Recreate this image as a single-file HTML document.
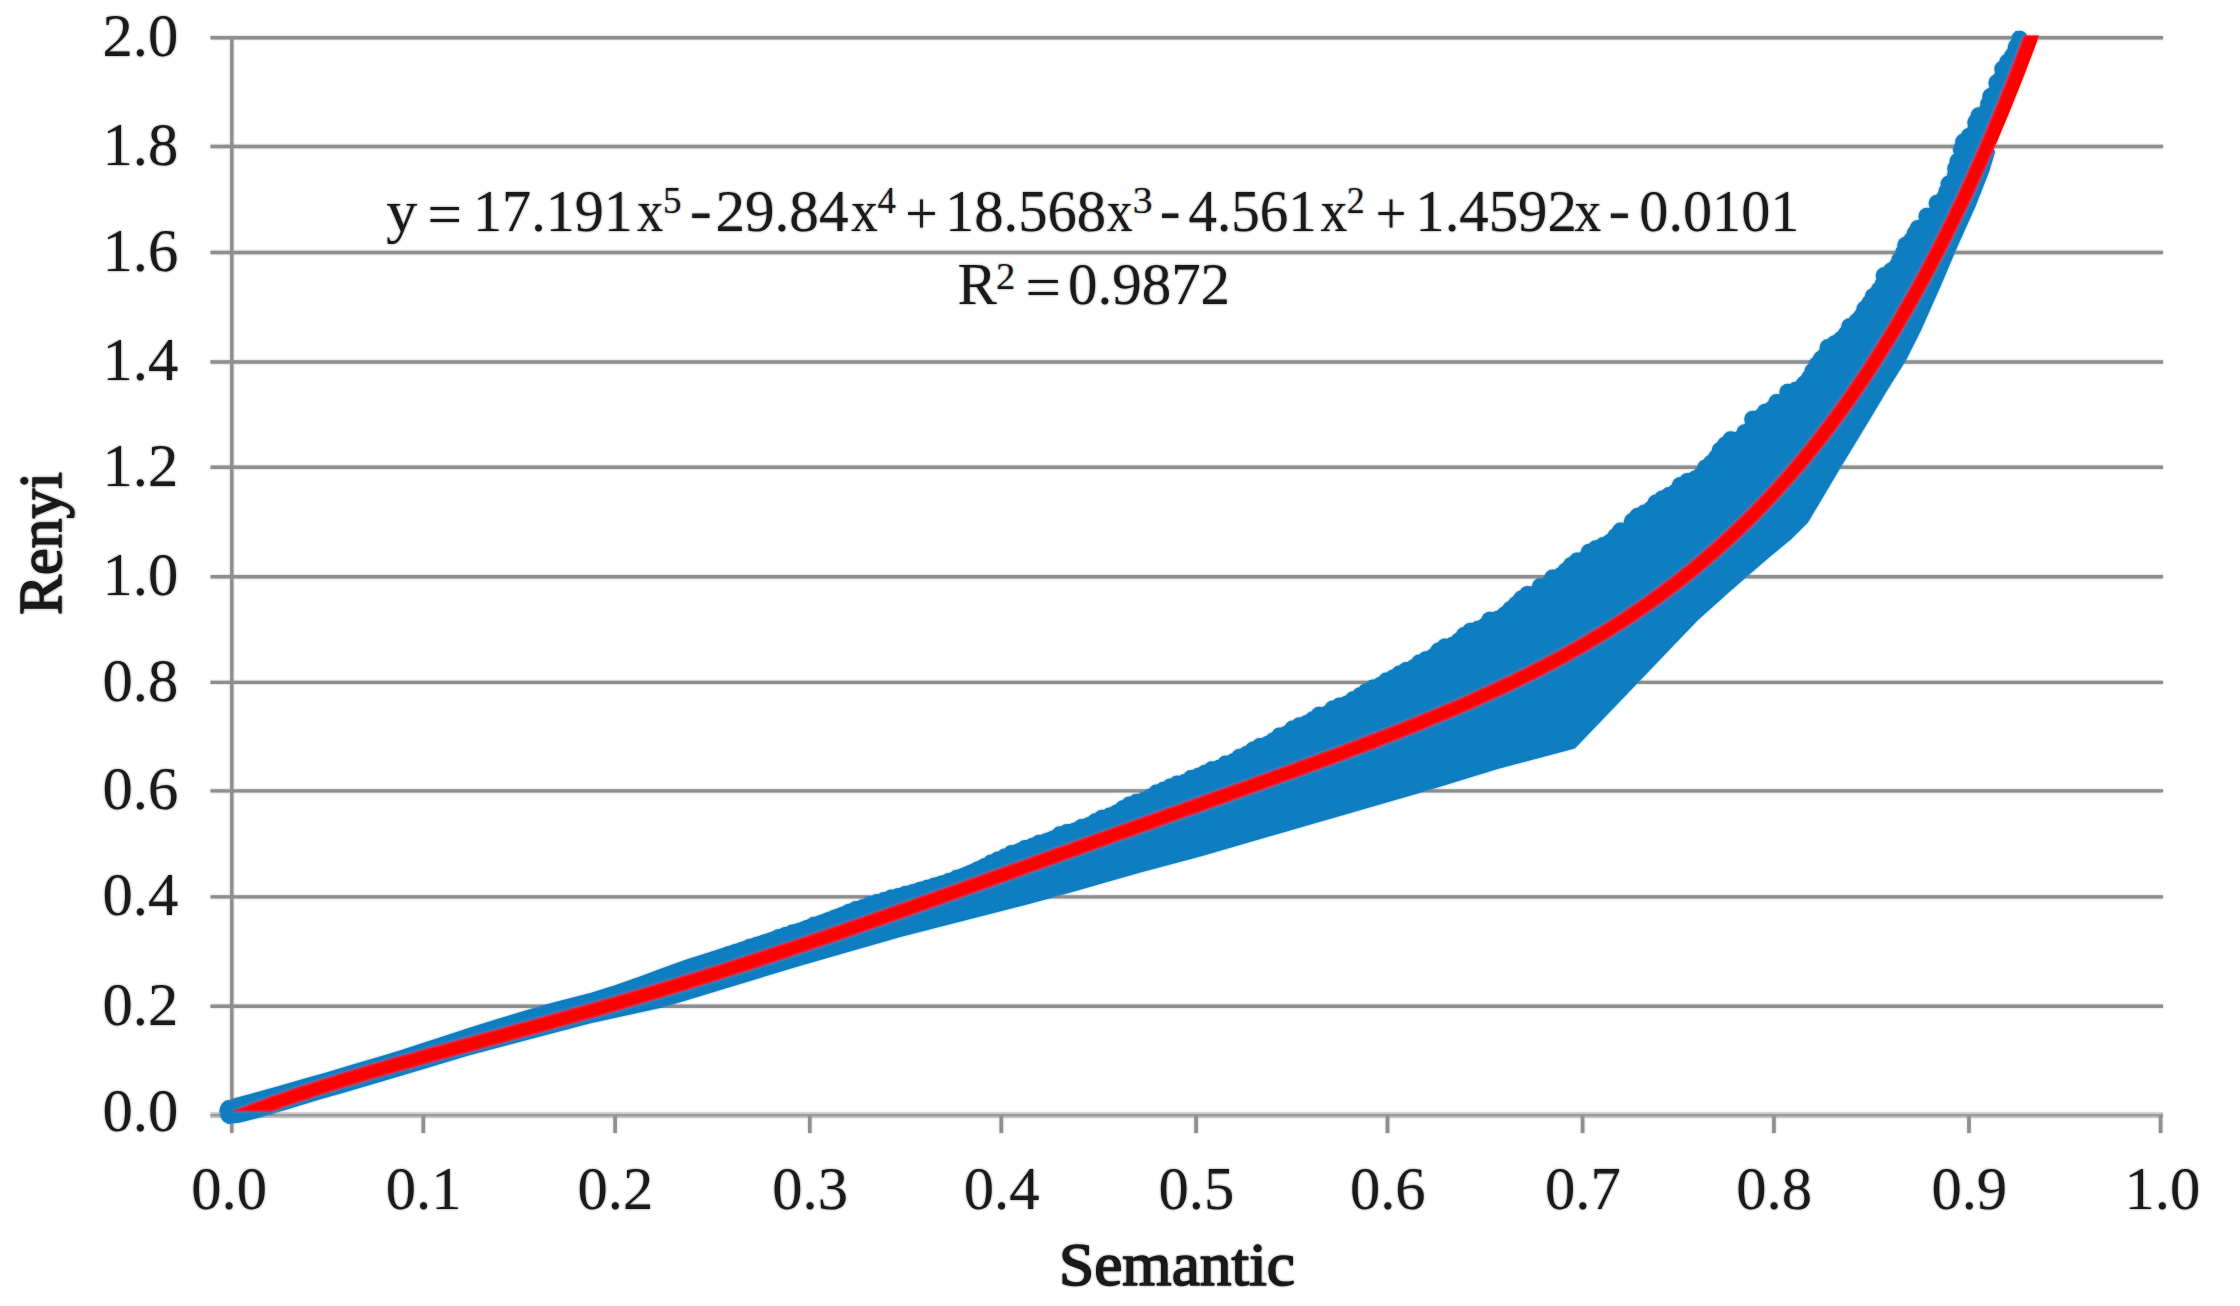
<!DOCTYPE html>
<html lang="en"><head><meta charset="utf-8"><title>Renyi vs Semantic</title>
<style>
html,body{margin:0;padding:0;background:#fff;}
body{width:2240px;height:1306px;overflow:hidden;}
svg{display:block;}
text{font-family:"Liberation Serif",serif;fill:#1a1a1a;}
.b{font-weight:normal;stroke:#1a1a1a;stroke-width:1.5px;stroke-linejoin:round;}
</style></head><body>
<svg width="2240" height="1306" viewBox="0 0 2240 1306">
<defs><clipPath id="plot"><rect x="225" y="35.5" width="1940" height="1076"/></clipPath><filter id="soft" x="0" y="0" width="2240" height="1306" filterUnits="userSpaceOnUse"><feGaussianBlur stdDeviation="0.9"/></filter></defs>
<rect width="2240" height="1306" fill="#fff"/>
<g id="chart">
<g stroke="#8f8f8f" stroke-width="3.4" fill="none"><line x1="210.5" y1="1006.3" x2="2163" y2="1006.3"/><line x1="210.5" y1="896.9" x2="2163" y2="896.9"/><line x1="210.5" y1="790.9" x2="2163" y2="790.9"/><line x1="210.5" y1="682.4" x2="2163" y2="682.4"/><line x1="210.5" y1="576.7" x2="2163" y2="576.7"/><line x1="210.5" y1="467.3" x2="2163" y2="467.3"/><line x1="210.5" y1="362.0" x2="2163" y2="362.0"/><line x1="210.5" y1="252.5" x2="2163" y2="252.5"/><line x1="210.5" y1="146.5" x2="2163" y2="146.5"/><line x1="210.5" y1="37.7" x2="2163" y2="37.7"/></g>
<line x1="231.8" y1="36" x2="231.8" y2="1133" stroke="#8f8f8f" stroke-width="3.4"/>
<rect x="210.5" y="1112" width="1952.5" height="2" fill="#d6d6d6"/><rect x="210.5" y="1114" width="1952.5" height="2" fill="#8e8e8e"/><rect x="210.5" y="1116" width="1952.5" height="1.8" fill="#bebebe"/>
<g stroke="#8f8f8f" stroke-width="3.6"><line x1="423.3" y1="1114" x2="423.3" y2="1133"/><line x1="615.1" y1="1114" x2="615.1" y2="1133"/><line x1="809.8" y1="1114" x2="809.8" y2="1133"/><line x1="1001.3" y1="1114" x2="1001.3" y2="1133"/><line x1="1196.1" y1="1114" x2="1196.1" y2="1133"/><line x1="1387.5" y1="1114" x2="1387.5" y2="1133"/><line x1="1582.6" y1="1114" x2="1582.6" y2="1133"/><line x1="1773.9" y1="1114" x2="1773.9" y2="1133"/><line x1="1969.0" y1="1114" x2="1969.0" y2="1133"/><line x1="2160.6" y1="1114" x2="2160.6" y2="1133"/></g>
<polygon points="232.0,1100.0 256.1,1093.4 280.2,1086.6 304.2,1079.8 328.3,1073.0 352.2,1065.8 376.2,1058.6 400.1,1051.5 423.9,1043.7 447.6,1035.9 471.4,1028.1 495.3,1020.8 519.2,1013.4 543.1,1006.1 567.3,1000.0 591.5,993.7 615.4,986.1 638.9,977.9 662.4,969.3 685.9,960.7 709.8,953.3 733.5,945.4 757.2,937.6 781.0,929.7 804.7,921.6 828.1,913.0 851.6,904.3 875.1,896.2 899.1,889.2 923.1,882.1 947.1,875.1 970.3,865.4 993.2,855.3 1016.1,845.2 1039.3,836.4 1062.8,827.9 1086.2,818.9 1109.3,808.9 1131.8,798.1 1154.5,787.9 1177.6,778.3 1200.7,768.6 1223.8,759.4 1246.5,748.0 1268.3,736.1 1290.5,724.5 1312.6,713.2 1335.3,702.6 1357.8,691.4 1379.7,679.2 1401.5,667.0 1423.4,654.9 1445.1,642.4 1466.6,629.5 1488.2,617.4 1509.9,604.2 1530.6,590.0 1551.2,575.9 1572.0,562.2 1592.8,548.3 1613.2,533.5 1633.3,518.6 1653.4,503.8 1673.5,489.0 1693.3,472.9 1712.0,456.3 1730.6,439.5 1748.9,422.4 1767.3,406.5 1787.5,391.7 1805.8,372.8 1819.2,352.9 1836.9,335.2 1854.2,316.4 1869.6,296.7 1883.6,275.3 1896.6,254.2 1910.4,233.4 1926.5,215.6 1941.6,194.2 1951.8,170.1 1959.7,148.3 1972.2,126.4 1983.5,104.1 1994.7,81.7 2005.8,58.7 2015.9,38.9 2016.0,32.0 2026.9,45.0 2021.2,60.0 2013.4,80.0 2005.4,100.0 1997.2,120.0 1988.7,140.0 1994.0,152.0 1988.0,172.0 1975.0,205.0 1957.0,245.0 1940.0,285.0 1920.0,330.0 1905.0,360.0 1885.0,392.0 1868.3,420.0 1839.3,467.7 1807.2,521.8 1791.1,537.9 1764.5,560.0 1730.0,590.0 1696.5,620.0 1636.9,682.2 1574.3,747.5 1497.2,768.0 1421.7,791.3 1350.0,812.0 1260.0,838.0 1200.0,855.5 1140.0,871.5 1050.0,897.2 1020.0,905.2 900.0,936.0 800.0,964.8 663.4,1006.2 589.3,1022.5 470.0,1054.0 400.0,1075.0 345.0,1091.2 320.0,1098.4 264.0,1115.5 240.0,1121.5 228.0,1123.0" fill="#107ec1" stroke="#107ec1" stroke-width="2" stroke-linejoin="round"/>
<ellipse cx="229.3" cy="1111.8" rx="10" ry="11.7" fill="#107ec1"/>
<g fill="#107ec1"><circle cx="707.4" cy="961.9" r="8.5"/><circle cx="714.6" cy="959.7" r="8.5"/><circle cx="721.8" cy="957.6" r="8.5"/><circle cx="728.7" cy="954.8" r="8.5"/><circle cx="735.9" cy="952.5" r="8.5"/><circle cx="743.0" cy="950.2" r="8.5"/><circle cx="750.0" cy="947.3" r="8.5"/><circle cx="757.2" cy="945.3" r="8.5"/><circle cx="764.4" cy="943.1" r="8.5"/><circle cx="771.5" cy="940.9" r="8.5"/><circle cx="778.4" cy="937.7" r="8.5"/><circle cx="785.6" cy="935.5" r="8.5"/><circle cx="792.6" cy="932.9" r="8.5"/><circle cx="800.0" cy="931.4" r="8.5"/><circle cx="807.3" cy="928.6" r="8.5"/><circle cx="814.0" cy="925.2" r="8.5"/><circle cx="821.5" cy="923.7" r="8.5"/><circle cx="828.5" cy="921.1" r="8.5"/><circle cx="835.4" cy="918.1" r="8.5"/><circle cx="842.4" cy="915.4" r="8.5"/><circle cx="849.2" cy="912.2" r="8.5"/><circle cx="856.1" cy="909.4" r="8.5"/><circle cx="863.4" cy="907.4" r="8.5"/><circle cx="869.7" cy="904.4" r="8.5"/><circle cx="877.0" cy="902.4" r="8.5"/><circle cx="884.2" cy="900.4" r="8.5"/><circle cx="891.3" cy="897.9" r="8.5"/><circle cx="898.6" cy="896.5" r="8.5"/><circle cx="905.8" cy="894.3" r="8.5"/><circle cx="913.2" cy="892.8" r="8.5"/><circle cx="920.3" cy="890.2" r="8.5"/><circle cx="927.5" cy="888.2" r="8.5"/><circle cx="934.6" cy="885.9" r="8.5"/><circle cx="941.9" cy="884.0" r="8.5"/><circle cx="949.0" cy="881.6" r="8.5"/><circle cx="956.9" cy="878.3" r="8.5"/><circle cx="964.3" cy="876.4" r="8.5"/><circle cx="971.1" cy="873.4" r="8.5"/><circle cx="977.9" cy="870.1" r="8.5"/><circle cx="984.6" cy="866.8" r="8.5"/><circle cx="991.2" cy="863.1" r="8.5"/><circle cx="998.0" cy="859.9" r="8.5"/><circle cx="1004.9" cy="857.0" r="8.5"/><circle cx="1011.6" cy="853.6" r="8.5"/><circle cx="1019.0" cy="851.7" r="8.5"/><circle cx="1025.1" cy="848.4" r="8.5"/><circle cx="1032.4" cy="846.6" r="8.5"/><circle cx="1039.2" cy="843.2" r="8.5"/><circle cx="1046.6" cy="841.7" r="8.5"/><circle cx="1053.6" cy="838.9" r="8.5"/><circle cx="1060.0" cy="834.7" r="8.5"/><circle cx="1067.2" cy="832.5" r="8.5"/><circle cx="1074.7" cy="831.3" r="8.5"/><circle cx="1081.7" cy="827.6" r="8.5"/><circle cx="1089.1" cy="825.8" r="8.5"/><circle cx="1095.5" cy="821.8" r="8.5"/><circle cx="1102.2" cy="818.3" r="8.5"/><circle cx="1109.9" cy="815.9" r="8.5"/><circle cx="1116.8" cy="813.0" r="8.5"/><circle cx="1123.1" cy="808.7" r="8.5"/><circle cx="1129.6" cy="805.1" r="8.5"/><circle cx="1136.6" cy="802.3" r="8.5"/><circle cx="1144.0" cy="800.3" r="8.5"/><circle cx="1150.3" cy="797.1" r="8.5"/><circle cx="1156.6" cy="792.9" r="8.5"/><circle cx="1163.6" cy="790.2" r="8.5"/><circle cx="1170.4" cy="787.0" r="8.5"/><circle cx="1177.3" cy="784.0" r="8.5"/><circle cx="1184.9" cy="782.6" r="8.5"/><circle cx="1191.2" cy="778.4" r="8.5"/><circle cx="1198.5" cy="776.3" r="8.5"/><circle cx="1205.1" cy="773.2" r="8.5"/><circle cx="1211.9" cy="769.8" r="8.5"/><circle cx="1219.3" cy="768.3" r="8.5"/><circle cx="1225.7" cy="764.1" r="8.5"/><circle cx="1233.7" cy="761.8" r="8.5"/><circle cx="1239.8" cy="757.2" r="8.5"/><circle cx="1247.1" cy="754.2" r="8.5"/><circle cx="1253.4" cy="750.1" r="8.5"/><circle cx="1260.0" cy="746.6" r="8.5"/><circle cx="1267.2" cy="744.7" r="8.5"/><circle cx="1273.7" cy="740.8" r="8.5"/><circle cx="1279.7" cy="736.1" r="8.5"/><circle cx="1287.0" cy="734.0" r="8.5"/><circle cx="1292.8" cy="728.9" r="8.5"/><circle cx="1299.7" cy="725.8" r="8.5"/><circle cx="1306.9" cy="723.4" r="8.5"/><circle cx="1313.0" cy="719.8" r="8.5"/><circle cx="1319.2" cy="715.2" r="8.5"/><circle cx="1327.0" cy="714.3" r="8.5"/><circle cx="1332.8" cy="709.1" r="8.5"/><circle cx="1339.7" cy="706.0" r="8.5"/><circle cx="1347.1" cy="704.1" r="8.5"/><circle cx="1353.3" cy="699.8" r="8.5"/><circle cx="1360.3" cy="695.8" r="8.5"/><circle cx="1366.5" cy="691.5" r="8.5"/><circle cx="1373.1" cy="687.9" r="8.5"/><circle cx="1380.3" cy="685.4" r="8.5"/><circle cx="1386.4" cy="680.9" r="8.5"/><circle cx="1393.4" cy="678.1" r="8.5"/><circle cx="1399.6" cy="673.9" r="8.5"/><circle cx="1406.3" cy="670.4" r="8.5"/><circle cx="1413.6" cy="668.1" r="8.5"/><circle cx="1419.4" cy="663.1" r="8.5"/><circle cx="1426.1" cy="659.7" r="8.5"/><circle cx="1433.1" cy="656.9" r="8.5"/><circle cx="1438.7" cy="650.9" r="8.5"/><circle cx="1445.0" cy="646.9" r="8.5"/><circle cx="1452.8" cy="645.2" r="8.5"/><circle cx="1459.0" cy="641.1" r="8.5"/><circle cx="1464.3" cy="635.4" r="8.5"/><circle cx="1470.6" cy="631.3" r="8.5"/><circle cx="1478.1" cy="629.2" r="8.5"/><circle cx="1484.6" cy="626.4" r="8.5"/><circle cx="1489.8" cy="620.2" r="8.5"/><circle cx="1497.8" cy="619.3" r="8.5"/><circle cx="1505.1" cy="614.7" r="8.5"/><circle cx="1510.6" cy="609.4" r="8.5"/><circle cx="1516.3" cy="604.5" r="8.5"/><circle cx="1521.6" cy="599.1" r="8.5"/><circle cx="1527.6" cy="594.5" r="8.5"/><circle cx="1536.1" cy="593.6" r="8.5"/><circle cx="1540.4" cy="586.6" r="8.5"/><circle cx="1547.8" cy="584.1" r="8.5"/><circle cx="1552.7" cy="578.1" r="8.5"/><circle cx="1560.4" cy="576.0" r="8.5"/><circle cx="1565.9" cy="571.0" r="8.5"/><circle cx="1571.3" cy="565.6" r="8.5"/><circle cx="1577.2" cy="561.0" r="8.5"/><circle cx="1584.9" cy="559.1" r="8.5"/><circle cx="1589.3" cy="552.2" r="8.5"/><circle cx="1596.0" cy="548.7" r="8.5"/><circle cx="1603.4" cy="545.4" r="8.5"/><circle cx="1610.3" cy="542.3" r="8.5"/><circle cx="1615.6" cy="536.8" r="8.5"/><circle cx="1620.6" cy="530.9" r="8.5"/><circle cx="1628.7" cy="529.3" r="8.5"/><circle cx="1632.4" cy="521.6" r="8.5"/><circle cx="1637.8" cy="516.3" r="8.5"/><circle cx="1644.6" cy="513.0" r="8.5"/><circle cx="1651.3" cy="509.3" r="8.5"/><circle cx="1656.0" cy="503.0" r="8.5"/><circle cx="1662.4" cy="499.1" r="8.5"/><circle cx="1669.1" cy="495.6" r="8.5"/><circle cx="1675.9" cy="492.1" r="8.5"/><circle cx="1680.3" cy="485.5" r="8.5"/><circle cx="1687.5" cy="481.5" r="8.5"/><circle cx="1695.4" cy="479.1" r="8.5"/><circle cx="1701.4" cy="474.5" r="8.5"/><circle cx="1705.6" cy="468.0" r="8.5"/><circle cx="1711.4" cy="463.2" r="8.5"/><circle cx="1716.5" cy="457.7" r="8.5"/><circle cx="1720.2" cy="450.6" r="8.5"/><circle cx="1725.4" cy="444.9" r="8.5"/><circle cx="1730.8" cy="439.7" r="8.5"/><circle cx="1740.3" cy="438.9" r="8.5"/><circle cx="1744.8" cy="432.7" r="8.5"/><circle cx="1751.5" cy="428.9" r="8.5"/><circle cx="1752.8" cy="419.3" r="8.5"/><circle cx="1761.0" cy="417.1" r="8.5"/><circle cx="1765.3" cy="412.2" r="8.5"/><circle cx="1772.3" cy="409.0" r="8.5"/><circle cx="1776.8" cy="402.5" r="8.5"/><circle cx="1785.4" cy="401.6" r="8.5"/><circle cx="1787.9" cy="392.3" r="8.5"/><circle cx="1795.8" cy="390.3" r="8.5"/><circle cx="1804.5" cy="383.9" r="8.5"/><circle cx="1809.5" cy="378.2" r="8.5"/><circle cx="1812.8" cy="371.4" r="8.5"/><circle cx="1816.8" cy="365.1" r="8.5"/><circle cx="1821.4" cy="359.1" r="8.5"/><circle cx="1825.4" cy="355.5" r="8.5"/><circle cx="1828.1" cy="347.6" r="8.5"/><circle cx="1834.9" cy="343.8" r="8.5"/><circle cx="1841.2" cy="339.5" r="8.5"/><circle cx="1846.4" cy="334.1" r="8.5"/><circle cx="1849.6" cy="326.7" r="8.5"/><circle cx="1856.9" cy="321.6" r="8.5"/><circle cx="1861.9" cy="316.0" r="8.5"/><circle cx="1865.0" cy="309.0" r="8.5"/><circle cx="1869.9" cy="303.3" r="8.5"/><circle cx="1873.3" cy="296.4" r="8.5"/><circle cx="1879.2" cy="290.2" r="8.5"/><circle cx="1883.3" cy="283.9" r="8.5"/><circle cx="1884.2" cy="275.7" r="8.5"/><circle cx="1891.2" cy="271.1" r="8.5"/><circle cx="1897.1" cy="265.9" r="8.5"/><circle cx="1900.1" cy="259.6" r="8.5"/><circle cx="1903.5" cy="252.8" r="8.5"/><circle cx="1905.8" cy="245.3" r="8.5"/><circle cx="1911.8" cy="240.3" r="8.5"/><circle cx="1915.2" cy="233.5" r="8.5"/><circle cx="1918.1" cy="228.4" r="8.5"/><circle cx="1925.2" cy="224.9" r="8.5"/><circle cx="1927.0" cy="216.2" r="8.5"/><circle cx="1935.4" cy="213.9" r="8.5"/><circle cx="1937.2" cy="203.2" r="8.5"/><circle cx="1944.0" cy="198.4" r="8.5"/><circle cx="1946.9" cy="191.5" r="8.5"/><circle cx="1949.1" cy="184.1" r="8.5"/><circle cx="1955.4" cy="176.0" r="8.5"/><circle cx="1955.7" cy="168.4" r="8.5"/><circle cx="1958.1" cy="161.3" r="8.5"/><circle cx="1961.3" cy="158.0" r="8.5"/><circle cx="1961.3" cy="149.3" r="8.5"/><circle cx="1963.7" cy="142.0" r="8.5"/><circle cx="1969.1" cy="136.5" r="8.5"/><circle cx="1975.2" cy="130.7" r="8.5"/><circle cx="1975.8" cy="122.6" r="8.5"/><circle cx="1979.0" cy="115.8" r="8.5"/><circle cx="1986.7" cy="111.3" r="8.5"/><circle cx="1988.7" cy="103.9" r="8.5"/><circle cx="1990.8" cy="96.6" r="8.5"/><circle cx="1996.8" cy="91.1" r="8.5"/><circle cx="1996.9" cy="82.8" r="8.5"/><circle cx="2002.2" cy="77.1" r="8.5"/><circle cx="2002.8" cy="69.0" r="8.5"/><circle cx="2007.8" cy="62.1" r="8.5"/><circle cx="2012.7" cy="56.0" r="8.5"/><circle cx="2016.0" cy="49.2" r="8.5"/><circle cx="2016.4" cy="46.7" r="8.5"/><circle cx="2019.6" cy="39.2" r="8.5"/></g>
<polyline clip-path="url(#plot)" points="231.8,1119.1 236.4,1117.3 241.0,1115.5 245.5,1113.7 250.1,1111.9 254.7,1110.1 259.3,1108.4 263.9,1106.7 268.4,1105.0 273.0,1103.4 277.6,1101.7 282.2,1100.1 286.8,1098.5 291.4,1097.0 295.9,1095.4 300.5,1093.9 305.1,1092.3 309.7,1090.8 314.3,1089.3 318.8,1087.9 323.4,1086.4 328.0,1084.9 332.6,1083.5 337.2,1082.1 341.7,1080.7 346.3,1079.3 350.9,1077.9 355.5,1076.5 360.1,1075.1 364.6,1073.8 369.2,1072.4 373.8,1071.1 378.4,1069.8 383.0,1068.4 387.6,1067.1 392.1,1065.8 396.7,1064.5 401.3,1063.2 405.9,1061.9 410.5,1060.7 415.0,1059.4 419.6,1058.1 424.2,1056.8 428.8,1055.6 433.4,1054.3 437.9,1053.0 442.5,1051.8 447.1,1050.5 451.7,1049.3 456.3,1048.0 460.8,1046.8 465.4,1045.5 470.0,1044.3 474.6,1043.0 479.2,1041.8 483.7,1040.5 488.3,1039.3 492.9,1038.0 497.5,1036.8 502.1,1035.5 506.7,1034.3 511.2,1033.0 515.8,1031.8 520.4,1030.5 525.0,1029.2 529.6,1028.0 534.1,1026.7 538.7,1025.4 543.3,1024.2 547.9,1022.9 552.5,1021.6 557.0,1020.3 561.6,1019.1 566.2,1017.8 570.8,1016.5 575.4,1015.2 579.9,1013.9 584.5,1012.6 589.1,1011.3 593.7,1010.0 598.3,1008.7 602.9,1007.4 607.4,1006.0 612.0,1004.7 616.6,1003.4 621.2,1002.0 625.8,1000.7 630.3,999.3 634.9,998.0 639.5,996.6 644.1,995.3 648.7,993.9 653.2,992.5 657.8,991.2 662.4,989.8 667.0,988.4 671.6,987.0 676.1,985.6 680.7,984.2 685.3,982.8 689.9,981.4 694.5,979.9 699.1,978.5 703.6,977.1 708.2,975.6 712.8,974.2 717.4,972.8 722.0,971.3 726.5,969.9 731.1,968.4 735.7,966.9 740.3,965.5 744.9,964.0 749.4,962.5 754.0,961.0 758.6,959.5 763.2,958.0 767.8,956.5 772.3,955.0 776.9,953.5 781.5,952.0 786.1,950.5 790.7,948.9 795.3,947.4 799.8,945.9 804.4,944.3 809.0,942.8 813.6,941.2 818.2,939.7 822.7,938.1 827.3,936.6 831.9,935.0 836.5,933.5 841.1,931.9 845.6,930.3 850.2,928.7 854.8,927.2 859.4,925.6 864.0,924.0 868.5,922.4 873.1,920.8 877.7,919.2 882.3,917.6 886.9,916.0 891.4,914.4 896.0,912.8 900.6,911.2 905.2,909.6 909.8,908.0 914.4,906.4 918.9,904.7 923.5,903.1 928.1,901.5 932.7,899.9 937.3,898.2 941.8,896.6 946.4,895.0 951.0,893.4 955.6,891.7 960.2,890.1 964.7,888.5 969.3,886.8 973.9,885.2 978.5,883.6 983.1,881.9 987.6,880.3 992.2,878.6 996.8,877.0 1001.4,875.4 1006.0,873.7 1010.6,872.1 1015.1,870.4 1019.7,868.8 1024.3,867.1 1028.9,865.5 1033.5,863.9 1038.0,862.2 1042.6,860.6 1047.2,858.9 1051.8,857.3 1056.4,855.6 1060.9,854.0 1065.5,852.4 1070.1,850.7 1074.7,849.1 1079.3,847.4 1083.8,845.8 1088.4,844.2 1093.0,842.5 1097.6,840.9 1102.2,839.2 1106.8,837.6 1111.3,836.0 1115.9,834.3 1120.5,832.7 1125.1,831.1 1129.7,829.4 1134.2,827.8 1138.8,826.2 1143.4,824.5 1148.0,822.9 1152.6,821.3 1157.1,819.6 1161.7,818.0 1166.3,816.4 1170.9,814.7 1175.5,813.1 1180.0,811.5 1184.6,809.8 1189.2,808.2 1193.8,806.6 1198.4,804.9 1203.0,803.3 1207.5,801.7 1212.1,800.0 1216.7,798.4 1221.3,796.8 1225.9,795.1 1230.4,793.5 1235.0,791.9 1239.6,790.2 1244.2,788.6 1248.8,787.0 1253.3,785.3 1257.9,783.7 1262.5,782.0 1267.1,780.4 1271.7,778.8 1276.2,777.1 1280.8,775.5 1285.4,773.8 1290.0,772.1 1294.6,770.5 1299.1,768.8 1303.7,767.1 1308.3,765.5 1312.9,763.8 1317.5,762.1 1322.1,760.4 1326.6,758.8 1331.2,757.1 1335.8,755.4 1340.4,753.7 1345.0,752.0 1349.5,750.2 1354.1,748.5 1358.7,746.8 1363.3,745.1 1367.9,743.3 1372.4,741.6 1377.0,739.8 1381.6,738.0 1386.2,736.3 1390.8,734.5 1395.3,732.7 1399.9,730.9 1404.5,729.1 1409.1,727.2 1413.7,725.4 1418.3,723.6 1422.8,721.7 1427.4,719.8 1432.0,717.9 1436.6,716.0 1441.2,714.1 1445.7,712.2 1450.3,710.3 1454.9,708.3 1459.5,706.3 1464.1,704.3 1468.6,702.3 1473.2,700.3 1477.8,698.3 1482.4,696.2 1487.0,694.1 1491.5,692.0 1496.1,689.9 1500.7,687.8 1505.3,685.6 1509.9,683.4 1514.5,681.2 1519.0,679.0 1523.6,676.8 1528.2,674.5 1532.8,672.2 1537.4,669.8 1541.9,667.5 1546.5,665.1 1551.1,662.7 1555.7,660.3 1560.3,657.8 1564.8,655.3 1569.4,652.7 1574.0,650.2 1578.6,647.6 1583.2,645.0 1587.7,642.3 1592.3,639.6 1596.9,636.8 1601.5,634.1 1606.1,631.3 1610.7,628.4 1615.2,625.5 1619.8,622.6 1624.4,619.6 1629.0,616.6 1633.6,613.5 1638.1,610.4 1642.7,607.3 1647.3,604.1 1651.9,600.8 1656.5,597.5 1661.0,594.2 1665.6,590.8 1670.2,587.3 1674.8,583.9 1679.4,580.3 1683.9,576.7 1688.5,573.0 1693.1,569.3 1697.7,565.5 1702.3,561.7 1706.8,557.8 1711.4,553.8 1716.0,549.8 1720.6,545.7 1725.2,541.6 1729.8,537.3 1734.3,533.0 1738.9,528.7 1743.5,524.2 1748.1,519.7 1752.7,515.2 1757.2,510.5 1761.8,505.8 1766.4,501.0 1771.0,496.1 1775.6,491.1 1780.1,486.1 1784.7,481.0 1789.3,475.7 1793.9,470.4 1798.5,465.1 1803.0,459.6 1807.6,454.0 1812.2,448.4 1816.8,442.6 1821.4,436.7 1826.0,430.8 1830.5,424.8 1835.1,418.6 1839.7,412.4 1844.3,406.0 1848.9,399.6 1853.4,393.0 1858.0,386.3 1862.6,379.6 1867.2,372.7 1871.8,365.7 1876.3,358.5 1880.9,351.3 1885.5,343.9 1890.1,336.5 1894.7,328.9 1899.2,321.1 1903.8,313.3 1908.4,305.3 1913.0,297.2 1917.6,288.9 1922.2,280.6 1926.7,272.0 1931.3,263.4 1935.9,254.6 1940.5,245.7 1945.1,236.6 1949.6,227.3 1954.2,218.0 1958.8,208.4 1963.4,198.8 1968.0,188.9 1972.5,178.9 1977.1,168.8 1981.7,158.5 1986.3,148.0 1990.9,137.4 1995.4,126.5 2000.0,115.6 2004.6,104.4 2009.2,93.1 2013.8,81.6 2018.4,69.9 2022.9,58.0 2027.5,46.0 2032.1,33.7 2036.7,21.3 2041.3,8.7 2045.8,-4.1 2050.4,-17.2 2055.0,-30.4 2059.6,-43.8 2064.2,-57.4" fill="none" stroke="#ff0000" stroke-width="14.5" stroke-linejoin="round"/>
<text x="178.3" y="1131.0" font-size="60.6" text-anchor="end">0.0</text>
<text x="178.3" y="1024.6" font-size="60.6" text-anchor="end">0.2</text>
<text x="178.3" y="915.2" font-size="60.6" text-anchor="end">0.4</text>
<text x="178.3" y="809.2" font-size="60.6" text-anchor="end">0.6</text>
<text x="178.3" y="700.7" font-size="60.6" text-anchor="end">0.8</text>
<text x="178.3" y="595.0" font-size="60.6" text-anchor="end">1.0</text>
<text x="178.3" y="485.6" font-size="60.6" text-anchor="end">1.2</text>
<text x="178.3" y="380.3" font-size="60.6" text-anchor="end">1.4</text>
<text x="178.3" y="270.8" font-size="60.6" text-anchor="end">1.6</text>
<text x="178.3" y="164.8" font-size="60.6" text-anchor="end">1.8</text>
<text x="178.3" y="56.0" font-size="60.6" text-anchor="end">2.0</text>
<text x="229.1" y="1209.3" font-size="60.6" text-anchor="middle">0.0</text>
<text x="423.6" y="1209.3" font-size="60.6" text-anchor="middle">0.1</text>
<text x="615.4" y="1209.3" font-size="60.6" text-anchor="middle">0.2</text>
<text x="810.1" y="1209.3" font-size="60.6" text-anchor="middle">0.3</text>
<text x="1001.6" y="1209.3" font-size="60.6" text-anchor="middle">0.4</text>
<text x="1196.4" y="1209.3" font-size="60.6" text-anchor="middle">0.5</text>
<text x="1387.8" y="1209.3" font-size="60.6" text-anchor="middle">0.6</text>
<text x="1582.9" y="1209.3" font-size="60.6" text-anchor="middle">0.7</text>
<text x="1774.2" y="1209.3" font-size="60.6" text-anchor="middle">0.8</text>
<text x="1969.3" y="1209.3" font-size="60.6" text-anchor="middle">0.9</text>
<text x="2162.4" y="1209.3" font-size="60.6" text-anchor="middle">1.0</text>
<text class="b" transform="translate(1176.9,1285.2) scale(1.04,1)" font-size="61" text-anchor="middle">Semantic</text>
<text class="b" transform="translate(61.3,543.4) rotate(-90) scale(0.979,1)" font-size="61" text-anchor="middle">Renyi</text>
<g id="eq">
<text transform="translate(386.14,231.4) scale(1.0643,1)" font-size="58.5">y</text>
<text transform="translate(427.47,234.1) scale(1.0444,1)" font-size="58.5">=</text>
<text transform="translate(473.03,231.4) scale(0.9935,1)" font-size="58.5">17.191</text>
<text transform="translate(637.00,231.4) scale(0.8966,1)" font-size="58.5">x</text>
<text transform="translate(663.00,213.4) scale(1.0000,1)" font-size="37.0">5</text>
<text transform="translate(689.73,230.4) scale(1.1333,1)" font-size="58.5">-</text>
<text transform="translate(715.47,231.4) scale(1.0109,1)" font-size="58.5">29.84</text>
<text transform="translate(851.00,231.4) scale(0.9172,1)" font-size="58.5">x</text>
<text transform="translate(877.41,213.4) scale(0.9941,1)" font-size="37.0">4</text>
<text transform="translate(905.14,233.4) scale(0.9852,1)" font-size="58.5">+</text>
<text transform="translate(944.99,231.4) scale(1.0019,1)" font-size="58.5">18.568</text>
<text transform="translate(1106.70,231.4) scale(0.8862,1)" font-size="58.5">x</text>
<text transform="translate(1132.65,213.4) scale(1.0733,1)" font-size="37.0">3</text>
<text transform="translate(1159.87,230.4) scale(1.0667,1)" font-size="58.5">-</text>
<text transform="translate(1188.53,231.4) scale(0.9740,1)" font-size="58.5">4.561</text>
<text transform="translate(1320.50,231.4) scale(0.9138,1)" font-size="58.5">x</text>
<text transform="translate(1346.66,213.4) scale(0.9714,1)" font-size="37.0">2</text>
<text transform="translate(1375.71,233.4) scale(0.9296,1)" font-size="58.5">+</text>
<text transform="translate(1415.28,231.4) scale(1.0046,1)" font-size="58.5">1.4592</text>
<text transform="translate(1574.50,231.4) scale(0.9138,1)" font-size="58.5">x</text>
<text transform="translate(1608.57,230.4) scale(1.1133,1)" font-size="58.5">-</text>
<text transform="translate(1639.31,231.4) scale(0.9949,1)" font-size="58.5">0.0101</text>
<text transform="translate(957.38,303.9) scale(1.0081,1)" font-size="58.5">R</text>
<text transform="translate(996.01,289.3) scale(1.0429,1)" font-size="37.0">2</text>
<text transform="translate(1025.38,306.6) scale(1.0741,1)" font-size="58.5">=</text>
<text transform="translate(1068.09,303.9) scale(1.0071,1)" font-size="58.5">0.9872</text>
</g>
</g>
<use href="#chart" filter="url(#soft)" opacity="0.55"/>
</svg></body></html>
